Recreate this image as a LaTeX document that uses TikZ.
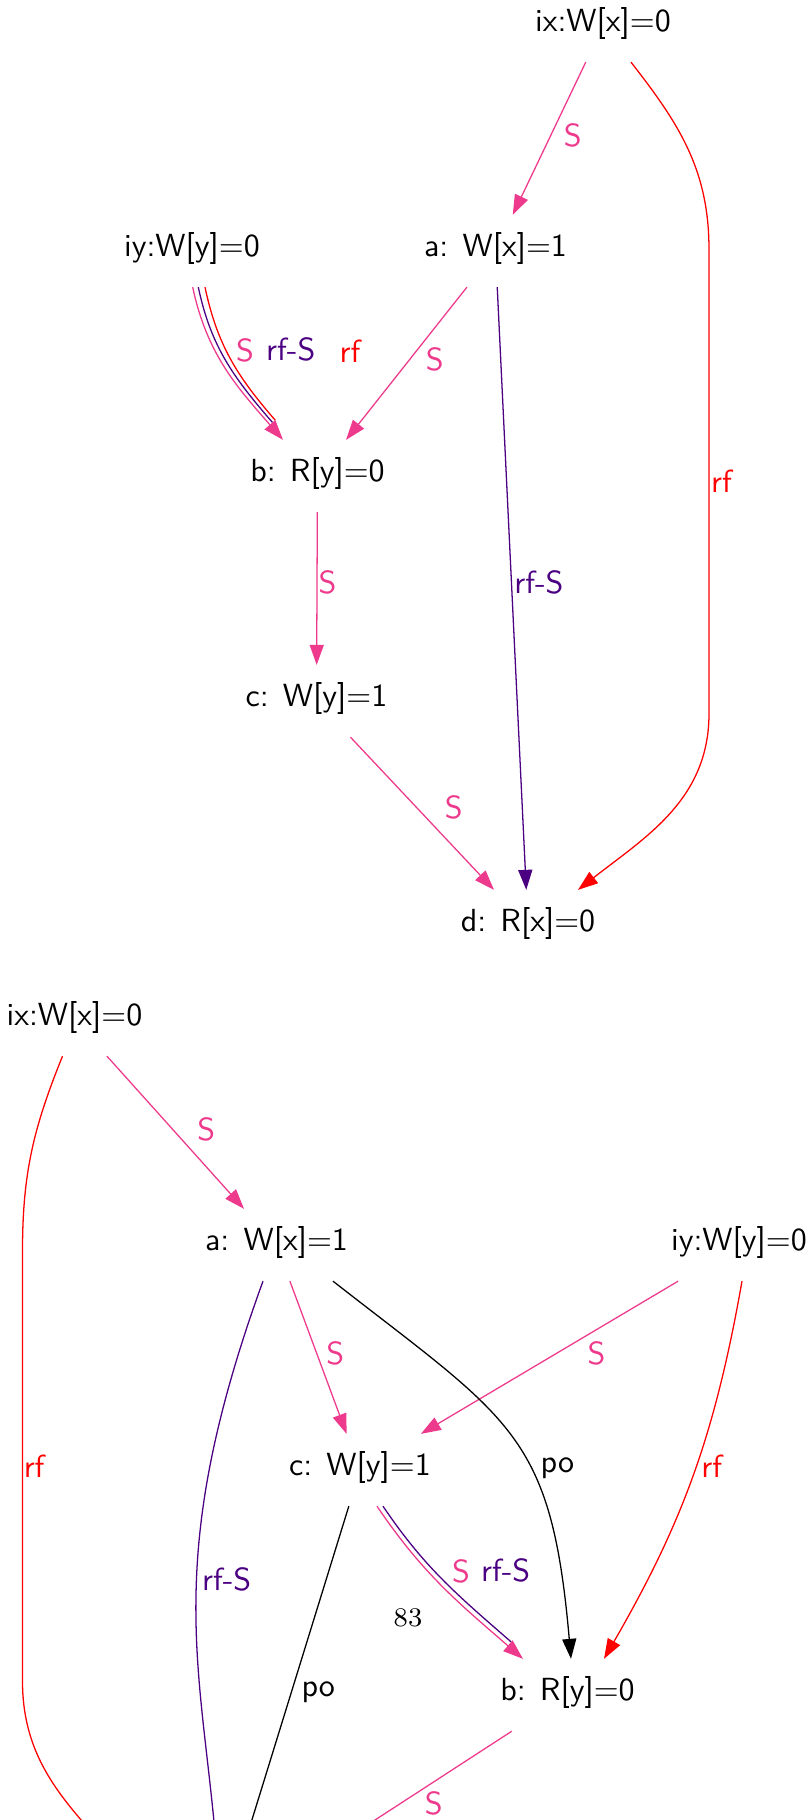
\documentclass[tikz,border=0pt]{standalone}
\usetikzlibrary{arrows.meta, positioning}
\definecolor{spink}{RGB}{238,58,140}
\definecolor{rfpurple}{RGB}{75,0,130}
\tikzset{
  >={Triangle[length=6.25pt, width=4.4pt]}, % filled heads as dot draws them
  x=0.3125pt, y=0.3125pt, % one unit is one pixel of the page
  event/.style={rectangle, minimum height=22.2pt, inner xsep=3pt,
    font=\sffamily, text height=6.6pt, text depth=3pt}, % each event of
  % the execution
  lbl/.style={font=\sffamily, inner sep=1.5pt, anchor=west}, % edge labels
  sedge/.style={spink}, % S edges
  rfedge/.style={red}, % rf edges
  rfsedge/.style={rfpurple}, % rf-S edges
  poedge/.style={black}, % program order
}

\begin{document}
\begin{tikzpicture}
    \useasboundingbox (0,0) rectangle (811,-1820);

    % first execution
    \node[event] (ix_1) at (603,-26) {ix:W[x]=0};
    \node[event] (iy_1) at (192,-251) {iy:W[y]=0};
    \node[event] (a_1) at (495.5,-251) {a: W[x]=1};
    \node[event] (b_1) at (317.5,-476) {b: R[y]=0};
    \node[event] (c_1) at (316.5,-701) {c: W[y]=1};
    \node[event] (d_1) at (528,-926) {d: R[x]=0};

    \draw[->]
    (ix_1) edge[sedge] node[lbl, pos=.48, xshift=2.4pt] {S} (a_1)
    (a_1) edge[sedge] node[lbl, pos=.47, xshift=3.2pt] {S} (b_1)
    (a_1) edge[rfsedge] node[lbl, pos=.49, xshift=-0.8pt] {rf-S} (d_1)
    (b_1) edge[sedge] node[lbl, pos=.46, xshift=-1.2pt] {S} (c_1)
    (c_1) edge[sedge] node[lbl, pos=.46, xshift=7.2pt] {S} (d_1)
    ;

    \draw[->, rfedge] ([shift={(28,0)}]ix_1.south) to[out=-52, in=90] ++(78,-187.5)
    -- node[lbl, xshift=-1pt] {rf} ++(0,-464)
    to[out=-90, in=38] ([shift={(50,0)}]d_1.north);

    \draw[rfedge] ([shift={(13,0)}]iy_1.south) to[out=-78, in=131]
    node[lbl, pos=.44, xshift=33.7pt] {rf} ([shift={(-42.3,19.7)}]b_1.north);
    \draw[rfsedge] ([shift={(6.3,0)}]iy_1.south) to[out=-78, in=131]
    node[lbl, pos=.42, xshift=12.8pt] {rf-S} ([shift={(-45,17.4)}]b_1.north);
    \draw[->, sedge] ([shift={(0.7,0)}]iy_1.south) to[out=-78, in=131]
    node[lbl, pos=.37, xshift=4.8pt] {S} ([shift={(-34.5,0)}]b_1.north);

    % second execution
    \node[event] (ix_2) at (74.5,-1020) {ix:W[x]=0};
    \node[event] (a_2) at (276.5,-1245) {a: W[x]=1};
    \node[event] (iy_2) at (739,-1245) {iy:W[y]=0};
    \node[event] (c_2) at (360,-1470) {c: W[y]=1};
    \node[event] (b_2) at (567.5,-1695) {b: R[y]=0};
    \coordinate (d_2) at (221,-1920); % below the page

    \draw[->]
    (ix_2) edge[sedge] node[lbl, pos=.48, xshift=6pt] {S} (a_2)
    (a_2) edge[sedge] node[lbl, pos=.47, xshift=1.4pt] {S} (c_2)
    (iy_2) edge[sedge] node[lbl, pos=.47, xshift=7.8pt] {S} (c_2)
    (c_2) edge[poedge] node[lbl, pos=.45, xshift=1.5pt] {po} (d_2)
    (b_2) edge[sedge] node[lbl, pos=.38, xshift=5.7pt] {S} (d_2)
    ;

    \draw[->, rfedge] ([shift={(-12,0)}]ix_2.south) to[out=-112, in=90] ++(-40,-195)
    -- node[lbl, xshift=-1.3pt] {rf} ++(0,-430)
    to[out=-90, in=128] ([shift={(-86,35.5)}]d_2);
    \draw[->, rfsedge] ([shift={(-13.5,0)}]a_2.south)
    to[out=-110, in=94, out looseness=1.3, in looseness=0.9]
    node[lbl, pos=.44] {rf-S} ([shift={(-2,35.5)}]d_2);
    \draw[->, poedge] ([shift={(56.5,0)}]a_2.south) to[out=-38, in=95, looseness=1.3]
    node[lbl, pos=.6, xshift=1.6pt] {po} ([shift={(3.5,0)}]b_2.north);
    \draw[->, rfedge] ([shift={(3,0)}]iy_2.south) to[out=-100, in=60]
    node[lbl, pos=.47] {rf} ([shift={(36.5,0)}]b_2.north);

    \draw[rfsedge] ([shift={(23,0)}]c_2.south) to[out=-56, in=139]
    node[lbl, pos=.43, xshift=13.2pt] {rf-S} ([shift={(-56.3,16.9)}]b_2.north);
    \draw[->, sedge] ([shift={(17,0)}]c_2.south) to[out=-56, in=139]
    node[lbl, pos=.385, xshift=5.7pt] {S} ([shift={(-44.5,0)}]b_2.north);

    \node[font=\fontsize{8.4}{10}\selectfont] (page_no) at (408,-1618.3) {83};
\end{tikzpicture}
\end{document}
